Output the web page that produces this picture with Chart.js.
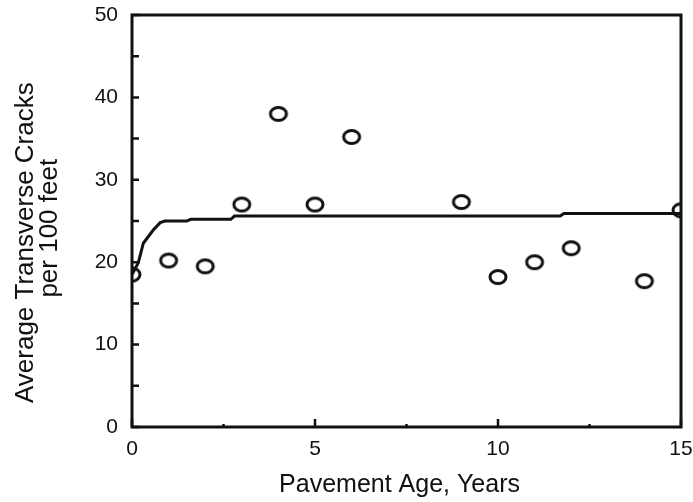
<!DOCTYPE html>
<html>
<head>
<meta charset="utf-8">
<script src="https://cdn.jsdelivr.net/npm/chart.js@4/dist/chart.umd.min.js"></script>
<style>
  html, body { margin: 0; padding: 0; background: #fff; }
  #wrap { width: 693px; height: 502px; }
</style>
</head>
<body>
<div id="wrap"><canvas id="crackChart" width="693" height="502"></canvas></div>
<script>
// measured points (pavement age, cracks per 100 ft)
const ageYears = [0, 1, 2, 3, 4, 5, 6, 9, 10, 11, 12, 14, 15];
const cracks = [18.5, 20.2, 19.5, 27, 38, 27, 35.2, 27.3, 18.2, 20, 21.7, 17.7, 26.3];

// fitted curve
const fitAge = [0, 0.17, 0.31, 0.58, 0.77, 0.9, 1.5, 1.6, 2.7, 2.8, 11.7, 11.8, 15];
const fitCracks = [18.5, 19.9, 22.3, 23.9, 24.8, 25.0, 25.0, 25.2, 25.2, 25.6, 25.6, 25.9, 25.9];

const xTickMajor = [0, 5, 10, 15];
const xTickMinor = [2.5, 7.5, 12.5];
const yTickMajor = [0, 10, 20, 30, 40, 50];
const yTickMinor = [5, 15, 25, 35, 45];

const ink = '#111';

// open ellipse marker like the original plot
function makeMarker() {
    const c = document.createElement('canvas');
    c.width = 24; c.height = 20;
    const g = c.getContext('2d');
    g.strokeStyle = ink;
    g.lineWidth = 3;
    g.beginPath();
    g.ellipse(12, 10, 8, 6.5, 0, 0, Math.PI * 2);
    g.stroke();
    return c;
}

// frame box + inward ticks
const framePlugin = {
    id: 'frame',
    afterDatasetsDraw(chart) {
        const ctx = chart.ctx;
        const a = chart.chartArea;
        const xs = chart.scales.x, ys = chart.scales.y;
        ctx.save();
        ctx.strokeStyle = ink;
        ctx.lineWidth = 3;
        ctx.strokeRect(a.left, a.top, a.right - a.left, a.bottom - a.top);
        ctx.lineWidth = 2.5;
        ctx.beginPath();
        yTickMajor.concat(yTickMinor).forEach(v => {
            const py = ys.getPixelForValue(v);
            ctx.moveTo(a.left, py);
            ctx.lineTo(a.left + 7, py);
        });
        xTickMajor.forEach(v => {
            const px = xs.getPixelForValue(v);
            ctx.moveTo(px, a.bottom);
            ctx.lineTo(px, a.bottom - 8);
        });
        xTickMinor.forEach(v => {
            const px = xs.getPixelForValue(v);
            ctx.moveTo(px, a.bottom);
            ctx.lineTo(px, a.bottom - 3);
        });
        ctx.stroke();
        ctx.restore();
    }
};

const tickFont = { family: "'Liberation Sans', Arial, sans-serif", size: 21 };
const titleFont = { family: "'Liberation Sans', Arial, sans-serif", size: 25 };

new Chart(document.getElementById('crackChart'), {
    type: 'scatter',
    data: {
        datasets: [{
            type: 'line',
            data: fitAge.map((x, i) => ({ x: x, y: fitCracks[i] })),
            borderColor: ink,
            borderWidth: 3,
            pointRadius: 0,
            tension: 0,
            fill: false
        }, {
            data: ageYears.map((x, i) => ({ x: x, y: cracks[i] })),
            pointStyle: makeMarker(),
            pointRadius: 9,
            borderColor: ink,
            backgroundColor: 'transparent'
        }]
    },
    options: {
        responsive: false,
        animation: false,
        layout: { padding: { left: 14, right: 12, top: 15, bottom: 2 } },
        plugins: { legend: { display: false }, tooltip: { enabled: false } },
        scales: {
            x: {
                type: 'linear',
                min: 0, max: 15,
                afterFit: s => { s.height = 73; s.paddingLeft = 0; s.paddingRight = 0; },
                grid: { display: false, drawTicks: false },
                border: { display: false },
                ticks: {
                    stepSize: 5, color: ink, font: tickFont, padding: 10,
                    maxRotation: 0
                },
                title: {
                    display: true, text: 'Pavement Age, Years  ', color: ink,
                    font: titleFont, padding: { top: 12, bottom: 0 }
                }
            },
            y: {
                min: 0, max: 50,
                afterFit: s => { s.width = 118; s.paddingTop = 0; s.paddingBottom = 0; },
                grid: { display: false, drawTicks: false },
                border: { display: false },
                ticks: { stepSize: 10, color: ink, font: tickFont, padding: 14 },
                title: {
                    display: true,
                    text: ['Average Transverse Cracks      ', 'per 100 feet  '],
                    color: ink, font: { ...titleFont, size: 26, lineHeight: 0.93 },
                    padding: { top: 0, bottom: 0 }
                }
            }
        }
    },
    plugins: [framePlugin]
});
</script>
</body>
</html>
